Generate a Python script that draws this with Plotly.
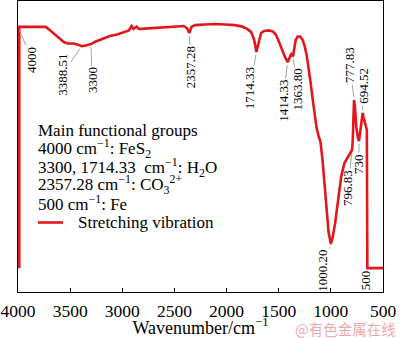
import numpy as np
import plotly.graph_objects as go

# FTIR spectrum (wavenumber in cm^-1, transmittance in arbitrary %)
wavenumber = [
    3988, 3888, 3811, 3734, 3696, 3647, 3599, 3561, 3523, 3465,
    3427, 3388.51, 3350, 3300, 3254, 3196, 3119, 3042, 2975, 2937,
    2911, 2894, 2863, 2841, 2783, 2687, 2591, 2495, 2409, 2380,
    2357.28, 2336, 2303, 2207, 2111, 2015, 1919, 1851, 1803, 1764,
    1735, 1714.33, 1693, 1669, 1640, 1592, 1554, 1525, 1497, 1468,
    1439, 1414.33, 1391, 1376, 1363.80, 1351, 1337, 1318, 1294, 1270,
    1251, 1232, 1213, 1195, 1176, 1157, 1137, 1118, 1099, 1080,
    1061, 1042, 1022, 1000.20, 984, 960, 930, 900, 870, 830,
    796.83, 790, 782, 777.83, 770, 755, 740, 730, 720, 705,
    694.52, 685, 672, 655,
]
transmittance = [
    91.1, 91.1, 91.2, 91.1, 90.0, 88.6, 87.1, 85.9, 85.4, 85.4,
    85.0, 84.5, 84.7, 85.2, 86.1, 86.9, 88.0, 88.6, 89.3, 89.9,
    91.4, 90.4, 91.2, 90.4, 90.5, 90.7, 91.1, 91.2, 91.4, 90.7,
    89.0, 91.1, 91.7, 91.9, 92.1, 91.9, 91.7, 91.2, 90.4, 89.3,
    86.6, 82.5, 85.9, 89.0, 89.7, 89.9, 89.5, 88.3, 85.9, 83.2,
    80.7, 79.0, 81.1, 82.1, 80.9, 83.8, 86.6, 87.8, 87.8, 86.6,
    84.5, 81.4, 77.0, 72.2, 66.7, 60.8, 56.4, 53.6, 51.5, 45.4,
    36.8, 28.2, 20.6, 16.5, 18.6, 23.4, 32.3, 39.9, 44.3, 46.7,
    48.8, 52.2, 62.5, 66.0, 63.9, 56.4, 52.9, 51.9, 54.6, 59.4,
    61.5, 59.8, 57.7, 55.7,
]
assert len(wavenumber) == len(transmittance)

# baseline segments at both ends of the recorded range
floor_level = 8.2
start_edge = 3988
cut_edge = 650
end_edge = 500

# labelled bands
peak_positions = [4000, 3388.51, 3300, 2357.28, 1714.33, 1414.33, 1363.80,
                  1000.20, 796.83, 777.83, 730, 694.52]
peak_labels = ["4000", "3388.51", "3300", "2357.28", "1714.33", "1414.33",
               "1363.80", "1000.20", "796.83", "777.83", "730", "694.52"]

# label offsets in pixels (text centre relative to the band point)
label_offsets = [(14, 33), (-20, 29), (1, 36), (1, 34), (-6, 36), (-5, 39),
                 (5, 33), (-8, 27), (-4, 38), (-4, -35), (0, 23), (0, -27)]

legend_lines = [
    "Main functional groups",
    "4000 cm<sup>\u22121</sup>: FeS<sub>2</sub>",
    "3300, 1714.33\u00a0 cm<sup>\u22121</sup>: H<sub>2</sub>O",
    "2357.28 cm<sup>\u22121</sup>: CO<sub>3</sub><sup>2+</sup>",
    "500 cm<sup>\u22121</sup>: Fe",
]
series_name = "Stretching vibration"

RED = "#e3161c"
SERIF = "Liberation Serif, Times New Roman, serif"


def px_x(px):
    return (px - 18) / 365


def px_y(py):
    return (292 - py) / 291


x_trace = [start_edge] + wavenumber + [cut_edge, end_edge]
y_trace = [floor_level] + transmittance + [floor_level, floor_level]

fig = go.Figure()
fig.add_trace(go.Scatter(
    x=x_trace, y=y_trace, mode="lines",
    line=dict(color=RED, width=2.6),
    name=series_name, showlegend=False,
))

wn_inc = np.array(wavenumber[::-1], dtype=float)
tr_inc = np.array(transmittance[::-1], dtype=float)

annotations = []
for pos, text, (ax, ay) in zip(peak_positions, peak_labels, label_offsets):
    yv = float(np.interp(pos, wn_inc, tr_inc))
    annotations.append(dict(
        x=pos, y=yv, xref="x", yref="y", text=text, textangle=-90,
        showarrow=True, arrowhead=0, arrowwidth=0.8, arrowcolor="#8a8a8a",
        ax=ax, ay=ay, standoff=3,
        font=dict(family=SERIF, size=13, color="black"),
    ))

# "500" marker beside the cut-off edge
annotations.append(dict(
    x=end_edge, y=floor_level, xref="x", yref="y", text="500", textangle=-90,
    showarrow=False, xshift=-18, yshift=-12,
    font=dict(family=SERIF, size=13, color="black"),
))

# functional-group notes
line_y = [130, 148, 167, 184, 203]
for text, py in zip(legend_lines, line_y):
    annotations.append(dict(
        x=px_x(36), y=px_y(py), xref="paper", yref="paper",
        text=text, showarrow=False, xanchor="left", yanchor="middle",
        font=dict(family=SERIF, size=17, color="black"),
    ))

# key entry for the spectrum line
annotations.append(dict(
    x=px_x(76), y=px_y(222), xref="paper", yref="paper",
    text=series_name, showarrow=False, xanchor="left", yanchor="middle",
    font=dict(family=SERIF, size=17, color="black"),
))
shapes = [dict(
    type="line", xref="paper", yref="paper",
    x0=px_x(38), x1=px_x(63), y0=px_y(222.5), y1=px_y(222.5),
    line=dict(color=RED, width=2.6),
)]

# site mark
annotations.append(dict(
    x=px_x(345), y=px_y(328), xref="paper", yref="paper",
    text="@有色金属在线", showarrow=False, xanchor="center", yanchor="middle",
    font=dict(family="Noto Sans CJK SC", size=14.5, color="rgba(236,150,150,0.85)"),
))

fig.update_layout(
    width=400, height=338,
    margin=dict(l=18, r=17, t=1, b=46),
    paper_bgcolor="white", plot_bgcolor="white",
    font=dict(family=SERIF, size=17, color="black"),
    showlegend=False,
    shapes=shapes,
    annotations=annotations,
    xaxis=dict(
        range=[4000, 500], tickmode="array",
        tickvals=[4000, 3500, 3000, 2500, 2000, 1500, 1000, 500],
        ticks="inside", ticklen=4, tickcolor="black", tickwidth=1,
        ticklabelstandoff=3,
        showline=True, linecolor="black", linewidth=1, mirror=True,
        showgrid=False, zeroline=False,
        tickfont=dict(family=SERIF, size=17.5, color="black"),
        title=dict(text="\u00a0\u00a0\u00a0\u00a0Wavenumber/cm<sup>\u22121</sup>",
                   standoff=3,
                   font=dict(family=SERIF, size=18, color="black")),
    ),
    yaxis=dict(
        range=[0, 100], showticklabels=False, ticks="",
        showline=True, linecolor="black", linewidth=1, mirror=True,
        showgrid=False, zeroline=False,
    ),
)

fig.write_html("out.html")
